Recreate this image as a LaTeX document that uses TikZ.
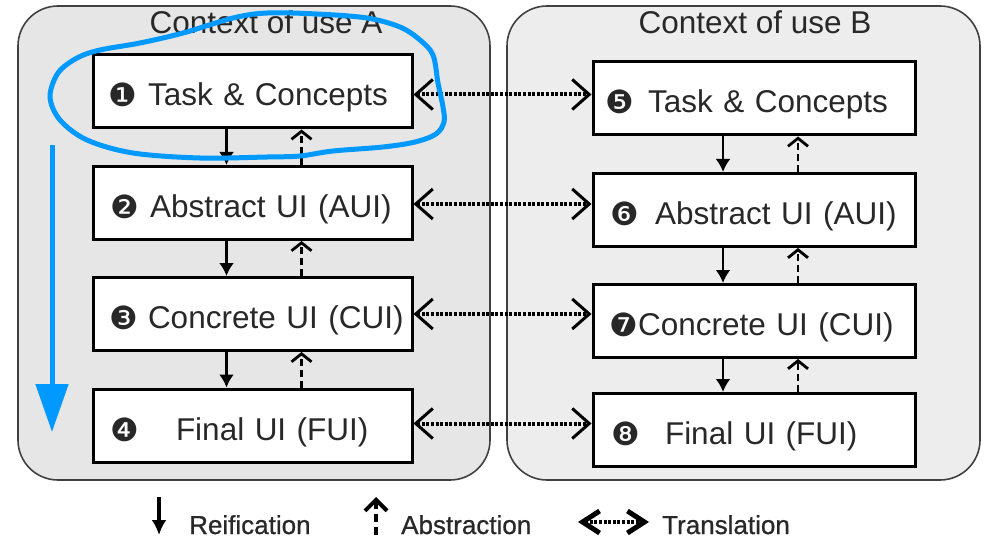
\documentclass[tikz,border=0pt]{standalone}
\usepackage{fontspec}
\setmainfont{Liberation Sans}
\newfontfamily\numfont{DejaVu Sans}
\newfontfamily\legfont[FakeBold=0.8]{Liberation Sans}
\usetikzlibrary{arrows.meta}
\definecolor{annot}{RGB}{0,153,255}
\definecolor{ctxfillA}{RGB}{230,230,230}
\definecolor{ctxfillB}{RGB}{237,237,237}
\definecolor{ink}{RGB}{40,40,40}

% lead space, circled number, gap, label
\newcommand{\levellabel}[4]{\hspace*{#1pt}\makebox[20pt][c]{\numfont\fontsize{32}{32}\selectfont\raisebox{-1pt}{#2}}\hspace*{#3pt}#4}

\begin{document}
\begin{tikzpicture}[x=1pt,y=-1pt,
  ctx/.style={draw=black!75, line width=1.6pt, rounded corners=40pt,
    minimum width=472pt, minimum height=474pt, inner sep=0pt},
  level/.style={draw=black, line width=3pt, fill=white, minimum height=73pt,
    inner sep=0pt, text height=29pt, text depth=0pt, align=left,
    font=\fontsize{31.5}{36}\selectfont, text=ink},
  ctxtitle/.style={font=\fontsize{31.5}{36}\selectfont, text=ink, inner sep=0pt, anchor=base},
  reif/.style={line width=2.5pt, -{Latex[length=13pt,width=15pt]}},
  abst/.style={line width=2.5pt, dash pattern=on 7pt off 4pt,
    -{Straight Barb[length=8pt,width=20pt,line width=2.8pt]}},
  trans/.style={line width=4pt, dash pattern=on 3pt off 1.6pt,
    {Straight Barb[length=17pt,width=30pt,line width=3pt]}-{Straight Barb[length=17pt,width=30pt,line width=3pt]}},
  legtext/.style={font=\legfont\fontsize{26}{30}\selectfont, text=ink, inner sep=0pt, anchor=base west},
  legreif/.style={line width=3.5pt, -{Latex[length=15pt,width=15pt]}},
  legabst/.style={line width=4.5pt, dash pattern=on 8pt off 5pt,
    -{Straight Barb[length=11pt,width=22pt,line width=4pt]}},
  legtrans/.style={line width=4.5pt, dash pattern=on 3pt off 1.6pt,
    {Straight Barb[length=17pt,width=22pt,line width=5pt]}-{Straight Barb[length=17pt,width=22pt,line width=5pt]}}
]
\useasboundingbox (0,0) rectangle (984,540);

% contexts of use
\node[ctx, fill=ctxfillA] (ctxA) at (254,243) {};
\node[ctx, fill=ctxfillB, minimum width=473pt] (ctxB) at (743.5,243) {};
\node[ctxtitle] (titleA) at (266,34) {Context of use A};
\node[ctxtitle] (titleB) at (755,34) {Context of use B};

% levels of context A
\node[level, minimum width=319pt, text width=319pt] (a1) at (252.5,91.5)
  {\levellabel{20}{❶}{15}{Task \& Concepts}};
\node[level, minimum width=319pt, text width=319pt] (a2) at (252.5,203)
  {\levellabel{22}{❷}{15}{Abstract UI (AUI)}};
\node[level, minimum width=319pt, text width=319pt] (a3) at (252.5,314)
  {\levellabel{21}{❸}{14}{Concrete UI (CUI)}};
\node[level, minimum width=319pt, text width=319pt] (a4) at (252.5,425.5)
  {\levellabel{22}{❹}{41}{Final UI (FUI)}};

% levels of context B
\node[level, minimum width=322pt, text width=322pt] (b1) at (754,98.5)
  {\levellabel{17}{❺}{18}{Task \& Concepts}};
\node[level, minimum width=322pt, text width=322pt] (b2) at (754,210)
  {\levellabel{22}{❻}{20}{Abstract UI (AUI)}};
\node[level, minimum width=322pt, text width=322pt] (b3) at (754,321)
  {\levellabel{21}{❼}{4}{Concrete UI (CUI)}};
\node[level, minimum width=322pt, text width=322pt] (b4) at (754,430)
  {\levellabel{23}{❽}{29}{Final UI (FUI)}};

% reification and abstraction inside each context
\foreach \u/\l in {a1/a2,a2/a3,a3/a4}{
  \draw[reif] ([xshift=-26pt]\u.south) -- ([xshift=-26pt]\l.north);
  \draw[abst] ([xshift=49pt]\l.north) -- ([xshift=49pt]\u.south);
}
\foreach \u/\l in {b1/b2,b2/b3,b3/b4}{
  \draw[reif] ([xshift=-31pt]\u.south) -- ([xshift=-31pt]\l.north);
  \draw[abst] ([xshift=44pt]\l.north) -- ([xshift=44pt]\u.south);
}

% translation between the contexts
\draw[trans] ([yshift=-3pt]a1.east) -- ([yshift=-3pt]a1.east -| b1.west);
\draw[trans] ([yshift=-1pt]a2.east) -- ([yshift=-1pt]a2.east -| b2.west);
\draw[trans] (a3.east) -- (a3.east -| b3.west);
\draw[trans] ([yshift=2pt]a4.east) -- ([yshift=2pt]a4.east -| b4.west);

% legend
\coordinate (lr1) at (159,497);
\coordinate (lr2) at (159,535);
\draw[legreif] (lr1) -- (lr2);
\node[legtext] (lrt) at (189,534) {Reification};
\coordinate (la1) at (376,535);
\coordinate (la2) at (376,497);
\draw[legabst] (la1) -- (la2);
\node[legtext] (lat) at (401,534) {Abstraction};
\coordinate (lt1) at (578,522);
\coordinate (lt2) at (649,522);
\draw[legtrans] (lt1) -- (lt2);
\node[legtext] (ltt) at (662,534) {Translation};

% hand-drawn highlight
\draw[annot, line width=5pt, line join=round, line cap=round]
  plot[smooth cycle, tension=0.55] coordinates {
    (50,97) (58,73) (77,58) (100,50) (140,43) (183,33) (233,18) (267,13)
    (317,14) (367,18) (400,27) (420,40) (433,55) (438,83) (443,107) (444,122)
    (436,134) (415,142) (383,147) (333,151) (300,156) (267,157) (200,158)
    (133,153) (87,140) (60,120)};
\coordinate (bluetop) at (52,145);
\coordinate (bluetip) at (52,432);
\draw[annot, line width=5pt, -{Triangle[length=48pt,width=32pt]}] (bluetop) -- (bluetip);
\end{tikzpicture}
\end{document}
